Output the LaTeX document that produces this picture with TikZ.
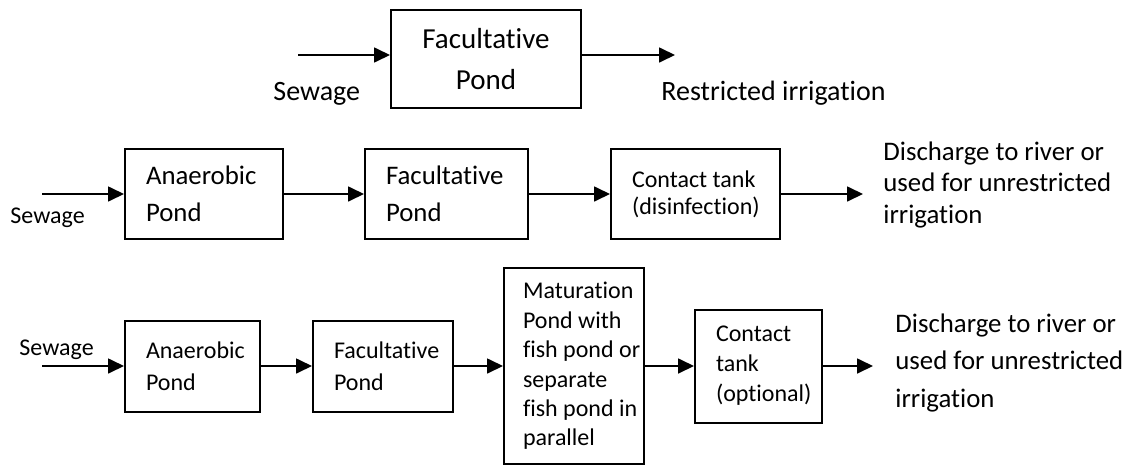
\documentclass[tikz,border=0pt]{standalone}
\usepackage{fontspec}
\setmainfont{Carlito}[Ligatures=NoCommon]
\usetikzlibrary{arrows.meta,positioning}
\newcommand{\sz}[2]{\fontsize{#1}{#2}\selectfont}
\tikzset{
  pondbox/.style={rectangle,draw,line width=1pt,inner xsep=0pt,inner ysep=0pt},
  stage/.style={pondbox,align=left,execute at begin node={\spaceskip=0pt\leftskip=10.5pt}},
  plain/.style={inner sep=0pt,anchor=base west,align=left,execute at begin node={\spaceskip=0pt}},
  arrow/.style={-{Triangle[length=8pt,width=7.5pt]},line width=0.85pt}
}

\begin{document}
\begin{tikzpicture}[x=0.5pt,y=-0.5pt]
  \useasboundingbox (0,0) rectangle (1127,466);
  % facultative pond only
  \node[pondbox,align=center,text width=95pt,minimum height=49pt,font=\sz{14.5}{20.5}] (a) at (486,59) {Facultative\\Pond};
  \node[plain,font=\sz{14}{17}] (a1) at (273,100) {Sewage};
  \node[plain,font=\sz{14}{17}] (a2) at (661,100) {Restricted irrigation};
  \coordinate (a0) at (298,55);
  \coordinate (a3) at (675,55);
  \draw[arrow] (a0) -- (a0 -| a.west);
  \draw[arrow] (a.east |- a3) -- (a3);

  % anaerobic + facultative + contact tank
  \node[stage,text width=79pt,minimum height=45pt,font=\sz{13.4}{18.5}] (b) at (204,194) {Anaerobic\\Pond};
  \node[stage,text width=81.5pt,minimum height=45pt,font=\sz{13.4}{18.5},right=40pt of b] (c) {Facultative\\Pond};
  \node[stage,text width=84.5pt,minimum height=45pt,font=\sz{12}{13.5},right=40.5pt of c] (d) {Contact tank\\(disinfection)};
  \node[plain,font=\sz{12}{14}] (b1) at (10,223) {Sewage};
  \node[plain,text width=130pt,font=\sz{13.4}{15.75}] (d1) at (883,160) {Discharge to river or\\used for unrestricted\\irrigation};
  \coordinate (b0) at (42,194);
  \coordinate (d2) at (863,194);
  \draw[arrow] (b0) -- (b);
  \draw[arrow] (b) -- (c);
  \draw[arrow] (c) -- (d);
  \draw[arrow] (d) -- (d2);

  % with maturation pond
  \node[stage,text width=67.5pt,minimum height=45.5pt,font=\sz{12}{16}] (e) at (192.5,366) {Anaerobic\\Pond};
  \node[stage,text width=70pt,minimum height=45.5pt,font=\sz{12}{16},right=25.5pt of e] (f) {Facultative\\Pond};
  \node[stage,text width=70pt,minimum height=98pt,font=\sz{12}{14.7},right=24.5pt of f,
        execute at begin node={\leftskip=9.5pt}] (g) {Maturation\\Pond with\\fish pond or\\separate\\fish pond in\\parallel};
  \node[stage,text width=63.5pt,minimum height=56.5pt,font=\sz{12}{15},right=24.5pt of g] (h) {Contact\\tank\\(optional)};
  \node[plain,font=\sz{12}{14}] (e1) at (19,355) {Sewage};
  \node[plain,text width=130pt,font=\sz{13.4}{18.75}] (h1) at (895,332) {Discharge to river or\\used for unrestricted\\irrigation};
  \coordinate (e0) at (42,366);
  \coordinate (h2) at (873,366);
  \draw[arrow] (e0) -- (e);
  \draw[arrow] (e) -- (f);
  \draw[arrow] (f) -- (g);
  \draw[arrow] (g) -- (h);
  \draw[arrow] (h) -- (h2);
\end{tikzpicture}
\end{document}
